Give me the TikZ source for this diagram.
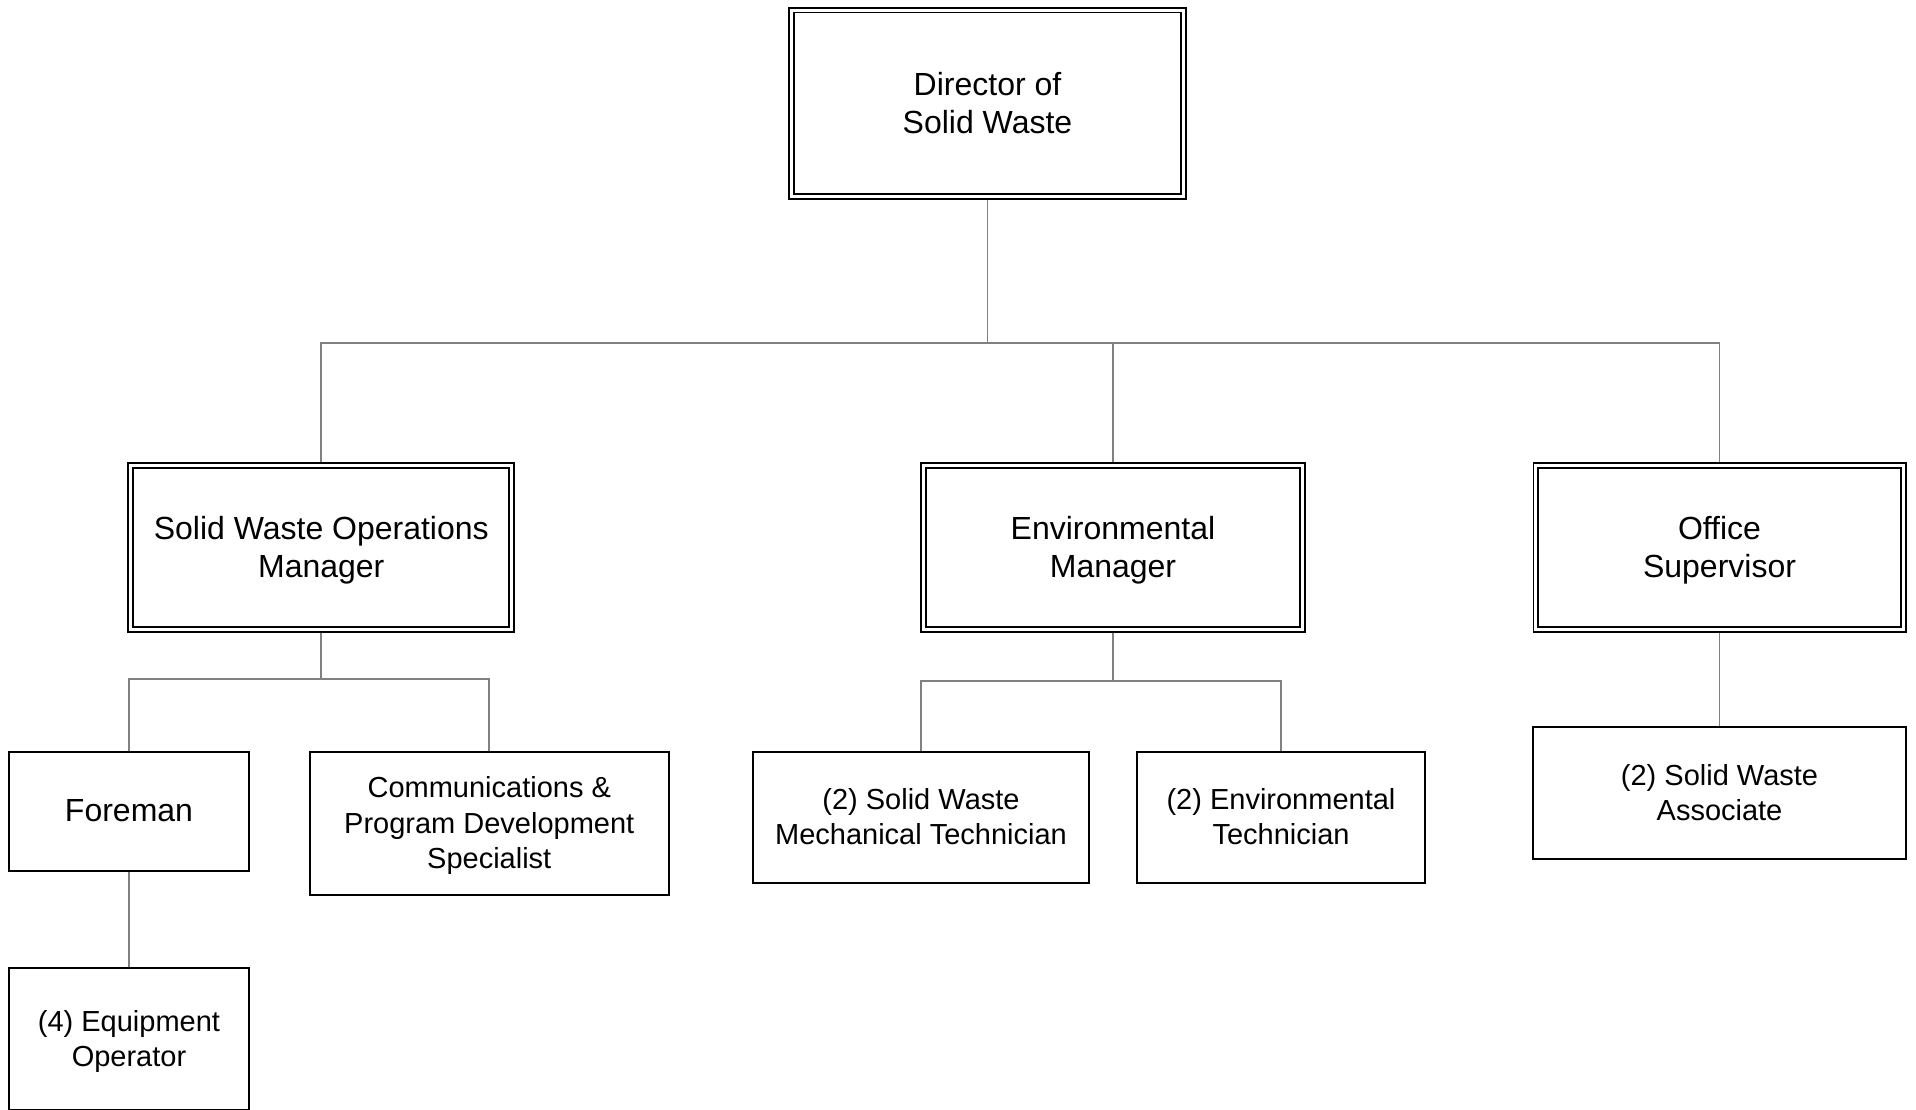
\documentclass[tikz,border=0pt]{standalone}
\usepackage{fontspec}
\setmainfont{Liberation Sans}
\usetikzlibrary{backgrounds}
\definecolor{linkgray}{RGB}{128,128,128}
\begin{document}
\begin{tikzpicture}[x=1pt,y=-1pt,
  box/.style={draw=black, line width=2, fill=white, inner sep=0, outer sep=0,
    align=center, text depth=1.5pt, font=\fontsize{29}{35.5}\selectfont},
  dbox/.style={draw=black, line width=1.8, double=white, double distance=3,
    fill=white, inner sep=0, outer sep=0, align=center, text depth=1.5pt,
    font=\fontsize{32}{38}\selectfont},
  link/.style={draw=linkgray, line width=1.8}]
\useasboundingbox (0,0) rectangle (1916,1109);
\clip (0,0) rectangle (1916,1109);

% level 1
\node[dbox, minimum width=392, minimum height=186.5] (dir) at (987.5,103.25) {Director of\\Solid Waste};
% level 2
\node[dbox, minimum width=381, minimum height=164] (swom) at (321.25,547.25) {Solid Waste Operations\\Manager};
\node[dbox, minimum width=379.4, minimum height=164] (env) at (1113,547.25) {Environmental\\Manager};
\node[dbox, minimum width=367.4, minimum height=164] (office) at (1719.5,547.25) {Office\\Supervisor};
% level 3
\node[box, minimum width=240, minimum height=119, font=\fontsize{32}{37}\selectfont] (foreman) at (129,811) {Foreman};
\node[box, minimum width=359.5, minimum height=143.5] (comm) at (489.25,823.25) {Communications \&\\Program Development\\Specialist};
\node[box, minimum width=336, minimum height=131] (swmt) at (921,817) {(2) Solid Waste\\Mechanical Technician};
\node[box, minimum width=288, minimum height=131.5] (et) at (1281,817.25) {(2) Environmental\\Technician};
\node[box, minimum width=372.5, minimum height=132] (swa) at (1719.5,793) {(2) Solid Waste\\Associate};
% level 4
\node[box, minimum width=240, minimum height=142] (eo) at (129,1039) {(4) Equipment\\Operator};

\coordinate (bus1) at (987.5,343);
\coordinate (bus2) at (321,679);
\coordinate (bus3) at (1113,681);

\begin{scope}[on background layer]
  \draw[link] (dir.south) -- (dir.south |- bus1);
  \draw[link] (swom.north) -- (swom.north |- bus1) -- (office.north |- bus1) -- (office.north);
  \draw[link] (env.north) -- (env.north |- bus1);
  \draw[link] (swom.south) -- (swom.south |- bus2);
  \draw[link] (foreman.north) -- (foreman.north |- bus2) -- (comm.north |- bus2) -- (comm.north);
  \draw[link] (env.south) -- (env.south |- bus3);
  \draw[link] (swmt.north) -- (swmt.north |- bus3) -- (et.north |- bus3) -- (et.north);
  \draw[link] (office.south) -- (swa.north);
  \draw[link] (foreman.south) -- (eo.north);
\end{scope}
\end{tikzpicture}
\end{document}
